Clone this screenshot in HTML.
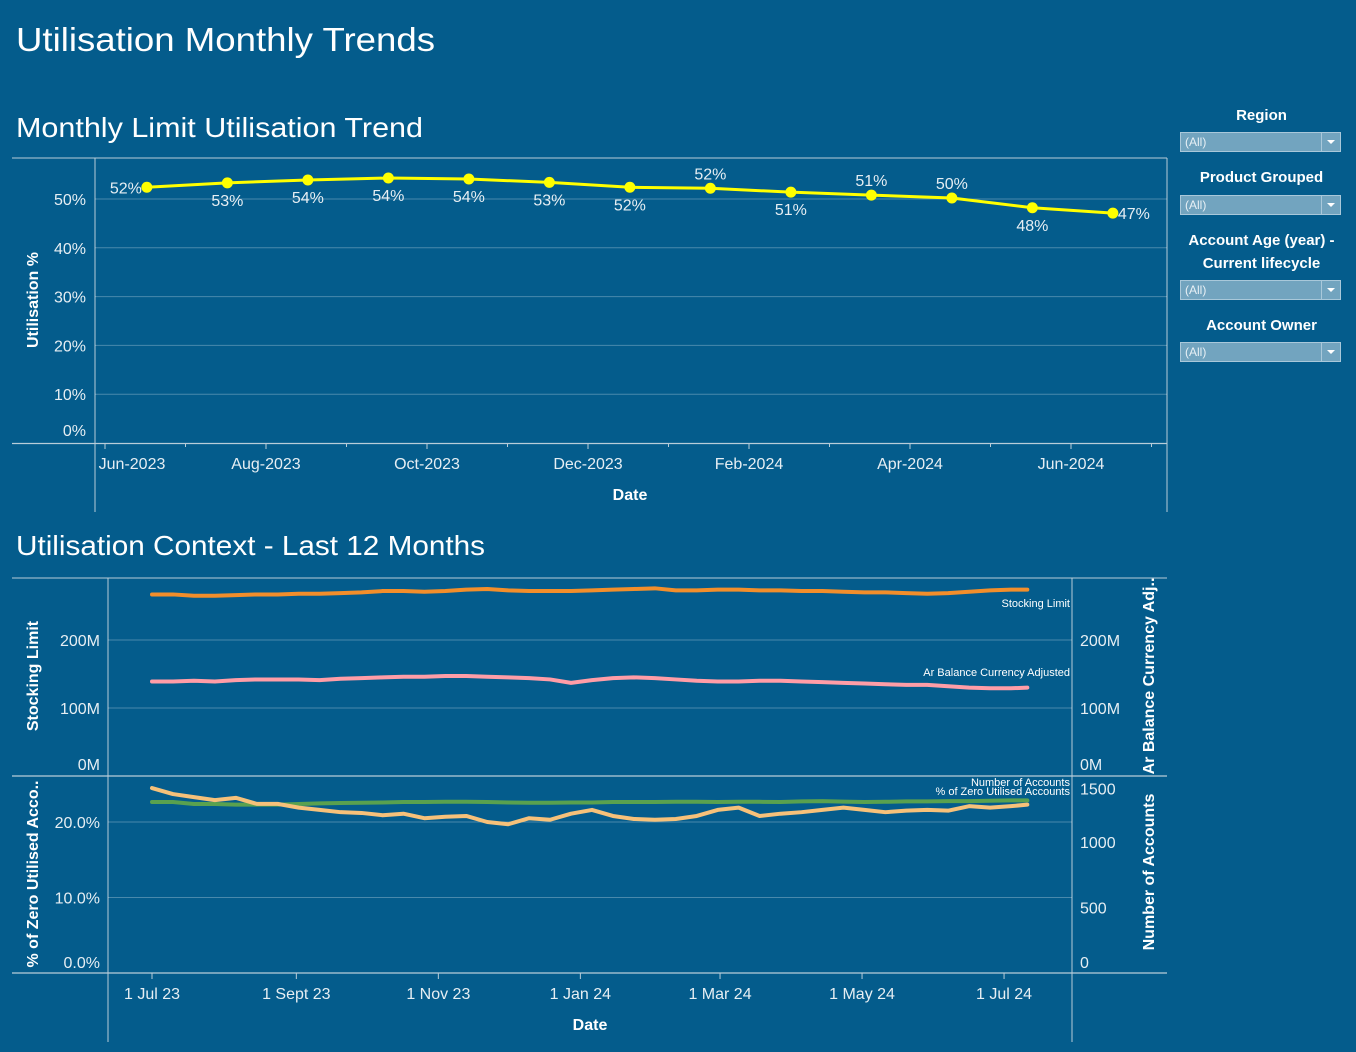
<!DOCTYPE html>
<html><head><meta charset="utf-8">
<style>
html,body{margin:0;padding:0;background:#045c8c;}
body{width:1356px;height:1052px;overflow:hidden;position:relative;font-family:"Liberation Sans",sans-serif;color:#fff;}
svg text{font-family:"Liberation Sans",sans-serif;}
.flt-title{position:absolute;left:1180px;width:163px;text-align:center;font-weight:bold;font-size:15px;color:#fff;line-height:23px;}
.flt-box{position:absolute;left:1180px;width:161px;height:20px;background:#72a4bf;border:1px solid #a9c8da;box-sizing:border-box;font-size:12px;color:#e8f0f5;line-height:19px;padding-left:4px;}
.flt-box .arrow{position:absolute;right:0;top:0;width:18px;height:18px;border-left:1px solid #a9c8da;}
.flt-box .arrow:after{content:"";position:absolute;left:5px;top:7px;border-left:4px solid transparent;border-right:4px solid transparent;border-top:4px solid #fff;}
</style></head>
<body>
<svg id="main" width="1356" height="1052" style="position:absolute;left:0;top:0">
<rect x="0" y="0" width="1356" height="1052" fill="#045c8c"/>
<text x="16" y="51" font-size="33" fill="#fff" textLength="419" lengthAdjust="spacingAndGlyphs">Utilisation Monthly Trends</text>
<text x="16" y="137" font-size="28" fill="#fff" textLength="407" lengthAdjust="spacingAndGlyphs">Monthly Limit Utilisation Trend</text>
<text x="16" y="555" font-size="28" fill="#fff" textLength="469" lengthAdjust="spacingAndGlyphs">Utilisation Context - Last 12 Months</text>
<g id="topg"></g>
<g id="botg"></g>
</svg>

<div class="flt-title" style="top:104px">Region</div>
<div class="flt-box" style="top:132px">(All)<span class="arrow"></span></div>
<div class="flt-title" style="top:166px">Product Grouped</div>
<div class="flt-box" style="top:195px">(All)<span class="arrow"></span></div>
<div class="flt-title" style="top:229px">Account Age (year) -<br>Current lifecycle</div>
<div class="flt-box" style="top:280px">(All)<span class="arrow"></span></div>
<div class="flt-title" style="top:314px">Account Owner</div>
<div class="flt-box" style="top:342px">(All)<span class="arrow"></span></div>

<script>
// ---- Top chart data ----
const months = ["Jun-2023","Jul-2023","Aug-2023","Sep-2023","Oct-2023","Nov-2023","Dec-2023","Jan-2024","Feb-2024","Mar-2024","Apr-2024","May-2024","Jun-2024"];
const utilisation = [52.4,53.3,53.9,54.3,54.1,53.4,52.4,52.2,51.4,50.8,50.2,48.2,47.1];
const labelPos = ["left","below","below","below","below","below","below","above","below","above","above","below","right"];
const topTicks = [0,10,20,30,40,50];
const monthTickLabels = ["Jun-2023","Aug-2023","Oct-2023","Dec-2023","Feb-2024","Apr-2024","Jun-2024"];

// ---- Bottom chart data (days since 1 Jul 2023) ----
const days = [0,9,18,27,36,45,54,63,72,81,90,99,108,117,126,135,144,153,162,171,180,189,198,207,216,225,234,243,252,261,270,279,288,297,306,315,324,333,342,351,360,369,376];
const stockingLimit = [267,267,265,265,266,267,267,268,268,269,270,272,272,271,272,274,275,273,272,272,272,273,274,275,276,273,273,274,274,273,273,272,272,271,270,270,269,268,269,271,273,274,274];
const arBalance = [139,139,140,139,141,142,142,142,141,143,144,145,146,146,147,147,146,145,144,142,137,141,144,145,144,142,140,139,139,140,140,139,138,137,136,135,134,134,132,130,129,129,130];
const numAccounts = [1305,1305,1290,1290,1285,1285,1285,1290,1295,1298,1300,1302,1305,1305,1307,1307,1305,1302,1300,1300,1302,1302,1305,1305,1305,1307,1307,1305,1307,1307,1305,1310,1312,1308,1305,1307,1310,1310,1312,1312,1315,1318,1318];
const pctZero = [24.5,23.7,23.3,22.9,23.2,22.4,22.4,21.9,21.6,21.3,21.2,20.9,21.1,20.5,20.7,20.8,20.0,19.7,20.5,20.3,21.1,21.6,20.8,20.4,20.3,20.4,20.8,21.6,21.9,20.8,21.1,21.3,21.6,21.9,21.6,21.3,21.5,21.6,21.5,22.1,21.9,22.1,22.3];
const dateTickDays = [0,62,123,184,244,305,366];
const dateTickLabels = ["1 Jul 23","1 Sept 23","1 Nov 23","1 Jan 24","1 Mar 24","1 May 24","1 Jul 24"];
const moneyTicks = [0,100,200];
const pctTicks = [0,10,20];
const countTicks = [0,500,1000,1500];

const NS="http://www.w3.org/2000/svg";
function mk(parent,tag,attrs,text){const e=document.createElementNS(NS,tag);for(const k in attrs)e.setAttribute(k,attrs[k]);if(text!==undefined)e.textContent=text;parent.appendChild(e);return e;}
const GRID="rgba(255,255,255,0.28)", AX="#b9cdd9";

// ===== Top chart =====
const tg=document.getElementById('topg');
const xM=m=>105+80.5*m;
const yU=v=>443-4.88*v;
let l=mk(tg,'line',{x1:12,y1:158,x2:1167,y2:158,stroke:AX,'stroke-width':1});


l=mk(tg,'line',{x1:1167,y1:158,x2:1167,y2:512,stroke:AX,'stroke-width':1});


l=mk(tg,'line',{x1:95,y1:158,x2:95,y2:512,stroke:AX,'stroke-width':1});


topTicks.forEach(t=>{
  if(t>0){const g=mk(tg,'line',{x1:95,y1:yU(t),x2:1167,y2:yU(t),stroke:GRID,'stroke-width':1});
  
  }
  const tx=mk(tg,'text',{x:86,y:(t===0?yU(t)-7:yU(t)+6),'font-size':16,fill:'#e6eef3','text-anchor':'end'},t+'%');
  
  
});
l=mk(tg,'line',{x1:12,y1:443.5,x2:1167,y2:443.5,stroke:AX,'stroke-width':1.2});


for(let m=0;m<=13;m++){
  const tk=mk(tg,'line',{x1:xM(m),y1:443,x2:xM(m),y2:(m%2===0?449:447),stroke:AX,'stroke-width':1});
  
  
}
monthTickLabels.forEach((s,i)=>{
  const x=i===0?132:xM(i*2);
  const tx=mk(tg,'text',{x:x,y:469,'font-size':16,fill:'#e6eef3','text-anchor':'middle'},s);
  
  
});
let at=mk(tg,'text',{x:630,y:500,'font-size':16,'font-weight':'bold',fill:'#fff','text-anchor':'middle'},'Date');


at=mk(tg,'text',{x:0,y:0,'font-size':16,'font-weight':'bold',fill:'#fff','text-anchor':'middle',transform:'translate(38,300) rotate(-90)'},'Utilisation %');


const pts=utilisation.map((v,i)=>xM(i+0.52)+','+yU(v)).join(' ');
const pl=mk(tg,'polyline',{points:pts,fill:'none',stroke:'#ffff00','stroke-width':3,'stroke-linejoin':'round'});


utilisation.forEach((v,i)=>{
  const cx=xM(i+0.52),cy=yU(v);
  const c=mk(tg,'circle',{cx:cx,cy:cy,r:5.5,fill:'#ffff00'});
  
  
  const p=labelPos[i];let x=cx,y=cy,anc='middle';
  if(p==='below')y=cy+23;else if(p==='above')y=cy-9;else if(p==='left'){x=cx-5;y=cy+6;anc='end';}else{x=cx+5;y=cy+6;anc='start';}
  const tx=mk(tg,'text',{x:x,y:y,'font-size':16,fill:'#e6eef3','text-anchor':anc},Math.round(v)+'%');
  
  
});

// ===== Bottom chart =====
const bg=document.getElementById('botg');
const xD=d=>152+2.328*d;
const yMoney=v=>776-0.68*v;
const yPct=v=>973-7.55*v;
const yCnt=v=>973-0.131*v;
l=mk(bg,'line',{x1:12,y1:578,x2:1167,y2:578,stroke:AX,'stroke-width':1});


l=mk(bg,'line',{x1:12,y1:776,x2:1167,y2:776,stroke:AX,'stroke-width':1.2});


l=mk(bg,'line',{x1:12,y1:973,x2:1167,y2:973,stroke:AX,'stroke-width':1.2});


l=mk(bg,'line',{x1:108,y1:578,x2:108,y2:1042,stroke:AX,'stroke-width':1});


l=mk(bg,'line',{x1:1072,y1:578,x2:1072,y2:1042,stroke:AX,'stroke-width':1});


moneyTicks.forEach(t=>{
  if(t>0){const g=mk(bg,'line',{x1:108,y1:yMoney(t),x2:1072,y2:yMoney(t),stroke:GRID,'stroke-width':1});
  
  }
  const yy=t===0?yMoney(t)-6:yMoney(t)+6;
  let tx=mk(bg,'text',{x:100,y:yy,'font-size':16,fill:'#e6eef3','text-anchor':'end'},t+'M');
  
  
  tx=mk(bg,'text',{x:1080,y:yy,'font-size':16,fill:'#e6eef3','text-anchor':'start'},t+'M');
  
  
});
pctTicks.forEach(t=>{
  if(t>0){const g=mk(bg,'line',{x1:108,y1:yPct(t),x2:1072,y2:yPct(t),stroke:GRID,'stroke-width':1});
  
  }
  const tx=mk(bg,'text',{x:100,y:(t===0?yPct(t)-5:yPct(t)+6),'font-size':16,fill:'#e6eef3','text-anchor':'end'},t.toFixed(1)+'%');
  
  
});
countTicks.forEach(t=>{
  let yy=yCnt(t)+6; if(t===0)yy=yCnt(t)-5; if(t===1500)yy=yCnt(t)+18;
  const tx=mk(bg,'text',{x:1080,y:yy,'font-size':16,fill:'#e6eef3','text-anchor':'start'},String(t));
  
  
});
dateTickDays.forEach((d,i)=>{
  const tk=mk(bg,'line',{x1:xD(d),y1:973,x2:xD(d),y2:979,stroke:AX,'stroke-width':1});
  
  
  const tx=mk(bg,'text',{x:xD(d),y:999,'font-size':16,fill:'#e6eef3','text-anchor':'middle'},dateTickLabels[i]);
  
  
});
at=mk(bg,'text',{x:590,y:1030,'font-size':16,'font-weight':'bold',fill:'#fff','text-anchor':'middle'},'Date');


at=mk(bg,'text',{x:0,y:0,'font-size':16,'font-weight':'bold',fill:'#fff','text-anchor':'middle',transform:'translate(38,676) rotate(-90)'},'Stocking Limit');


at=mk(bg,'text',{x:0,y:0,'font-size':16,'font-weight':'bold',fill:'#fff','text-anchor':'middle',transform:'translate(38,874) rotate(-90)'},'% of Zero Utilised Acco..');


at=mk(bg,'text',{x:0,y:0,'font-size':16,'font-weight':'bold',fill:'#fff','text-anchor':'middle',transform:'translate(1154,676) rotate(-90)'},'Ar Balance Currency Adj..');


at=mk(bg,'text',{x:0,y:0,'font-size':16,'font-weight':'bold',fill:'#fff','text-anchor':'middle',transform:'translate(1154,872) rotate(-90)'},'Number of Accounts');



function series(vals,yf,color){
  const p=mk(bg,'polyline',{points:vals.map((v,i)=>xD(days[i])+','+yf(v)).join(' '),fill:'none',stroke:color,'stroke-width':4,'stroke-linejoin':'round','stroke-linecap':'round'});
  
  return p;
}
let s1=series(stockingLimit,yMoney,'#f28e2b');

let s2=series(arBalance,yMoney,'#ff9da7');

let s3=series(numAccounts,yCnt,'#59a14f');

let s4=series(pctZero,yPct,'#f6c17a');


const labs=[['Stocking Limit',607],['Ar Balance Currency Adjusted',676],['Number of Accounts',786],['% of Zero Utilised Accounts',795]];
labs.forEach(a=>{
  const tx=mk(bg,'text',{x:1070,y:a[1],'font-size':11,fill:'#fff','text-anchor':'end'},a[0]);
  
  
});
</script>
</body></html>
